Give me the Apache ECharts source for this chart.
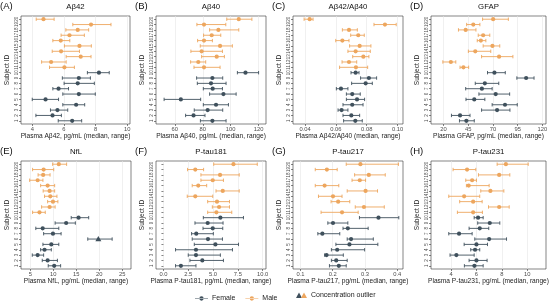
<!DOCTYPE html>
<html>
<head>
<meta charset="utf-8">
<script src="https://cdn.jsdelivr.net/npm/echarts@6/dist/echarts.min.js"></script>
<style>
  html, body { margin: 0; padding: 0; background: #fff; }
  #chart { width: 551px; height: 302px; }
</style>
</head>
<body>
<div id="chart"></div>
<script>
// subject IDs (y axis) and sex of each subject
const subjectIds = [1, 2, 3, 4, 5, 6, 7, 8, 9, 10, 11, 12, 13, 14, 15, 16, 17, 18, 19, 20];
const subjectSex = ['F', 'F', 'F', 'F', 'F', 'F', 'F', 'F', 'F', 'F',
                    'M', 'M', 'M', 'M', 'M', 'M', 'M', 'M', 'M', 'M'];

// values per subject (index 0 = subject 1): median, min, max
const ab42Med = [6.52, 5.28, 5.59, 6.77, 4.84, 6.94, 5.66, 6.87, 6.94, 8.21, 6.03, 5.19, 7.06, 5.82, 6.98, 5.80, 6.35, 6.87, 7.71, 4.71];
const ab42Min = [5.64, 4.23, 5.15, 5.93, 4.00, 5.93, 5.30, 6.01, 5.90, 7.48, 5.09, 4.59, 6.14, 5.26, 6.03, 5.30, 5.82, 6.12, 6.56, 4.25];
const ab42Max = [7.12, 5.84, 6.24, 7.31, 5.66, 7.98, 6.29, 7.92, 7.67, 8.86, 6.66, 6.14, 7.71, 6.98, 7.73, 6.37, 7.29, 7.56, 8.97, 5.38];

const ab40Med = [86.9, 73.4, 83.5, 89.5, 64.3, 94.8, 87.1, 85.9, 86.9, 110.6, 80.9, 76.8, 90.0, 79.2, 92.4, 80.9, 86.4, 91.2, 80.9, 105.8];
const ab40Min = [78.3, 67.7, 73.9, 80.4, 52.3, 84.9, 80.4, 76.1, 75.6, 104.8, 73.7, 71.3, 79.2, 71.5, 78.2, 76.3, 80.6, 84.9, 75.8, 97.2];
const ab40Max = [96.7, 81.6, 94.3, 98.4, 78.5, 103.9, 94.1, 96.7, 94.3, 120.0, 92.4, 82.1, 95.5, 94.1, 101.2, 86.9, 92.9, 105.8, 96.5, 115.2];

const ratioMed = [0.0726, 0.0700, 0.0637, 0.0706, 0.0737, 0.0706, 0.0633, 0.0793, 0.0814, 0.0728, 0.0730, 0.0685, 0.0778, 0.0728, 0.0754, 0.0642, 0.0745, 0.0685, 0.0918, 0.0430];
const ratioMin = [0.0650, 0.0646, 0.0614, 0.0646, 0.0668, 0.0668, 0.0603, 0.0702, 0.0760, 0.0698, 0.0624, 0.0640, 0.0709, 0.0678, 0.0689, 0.0599, 0.0696, 0.0642, 0.0847, 0.0394];
const ratioMax = [0.0771, 0.0754, 0.0678, 0.0776, 0.0786, 0.0758, 0.0678, 0.0836, 0.0864, 0.0750, 0.0806, 0.0735, 0.0814, 0.0823, 0.0827, 0.0685, 0.0784, 0.0739, 0.0991, 0.0452];

const gfapMed = [43.1, 36.7, 74.2, 82.2, 51.1, 72.8, 58.8, 61.8, 103.6, 71.5, 40.1, 27.4, 76.2, 52.1, 69.5, 57.8, 60.1, 42.4, 50.1, 70.2];
const gfapMin = [36.1, 28.0, 58.5, 69.2, 42.7, 55.8, 42.4, 52.1, 94.2, 64.5, 36.7, 19.3, 58.5, 45.1, 60.1, 54.1, 55.1, 35.1, 43.4, 59.5];
const gfapMax = [51.1, 46.8, 87.2, 94.6, 61.8, 86.9, 69.2, 75.9, 111.6, 82.5, 45.4, 32.4, 90.2, 67.8, 76.9, 62.8, 66.8, 52.8, 56.8, 85.6];

const nflMed = [10.2, 8.77, 6.6, 8.1, 9.57, 19.8, 9.93, 7.7, 12.8, 15.5, 7.0, 9.2, 9.93, 9.35, 9.2, 8.77, 6.6, 7.8, 7.9, 11.2];
const nflMin = [8.9, 7.6, 5.43, 7.25, 7.75, 17.5, 7.9, 6.2, 10.4, 13.9, 5.5, 7.46, 8.77, 8.1, 7.8, 7.25, 4.86, 6.7, 5.5, 9.86];
const nflMax = [11.6, 10.9, 7.9, 9.57, 11.2, 22.8, 11.7, 11.2, 14.8, 17.7, 8.26, 10.4, 11.0, 10.8, 10.3, 10.3, 7.75, 9.3, 10.1, 12.9];
const nflOutliers = [6];

const ptau181Med = [1.76, 3.92, 3.28, 3.28, 5.24, 4.49, 3.31, 4.97, 4.46, 5.74, 5.34, 5.61, 5.40, 3.21, 5.98, 3.51, 4.97, 5.71, 3.21, 7.06];
const ptau181Min = [1.22, 2.67, 2.50, 1.22, 3.11, 2.90, 2.84, 3.99, 3.18, 4.02, 4.46, 4.93, 4.46, 2.40, 5.30, 2.90, 3.78, 3.78, 2.43, 5.07];
const ptau181Max = [3.28, 6.05, 5.74, 6.96, 7.57, 5.95, 5.03, 5.98, 6.01, 8.07, 6.89, 6.66, 6.66, 4.97, 7.64, 4.36, 6.05, 7.64, 4.05, 9.46];

const ptau217Med = [0.219, 0.211, 0.181, 0.214, 0.252, 0.257, 0.168, 0.247, 0.201, 0.342, 0.229, 0.297, 0.217, 0.201, 0.302, 0.175, 0.284, 0.312, 0.182, 0.286];
const ptau217Min = [0.190, 0.196, 0.175, 0.196, 0.210, 0.245, 0.154, 0.232, 0.185, 0.283, 0.164, 0.270, 0.195, 0.156, 0.245, 0.146, 0.260, 0.268, 0.146, 0.242];
const ptau217Max = [0.242, 0.245, 0.233, 0.299, 0.340, 0.326, 0.222, 0.310, 0.247, 0.405, 0.279, 0.360, 0.253, 0.229, 0.339, 0.219, 0.302, 0.363, 0.214, 0.404];

const ptau231Med = [5.84, 6.00, 4.42, 5.89, 6.00, 7.00, 4.63, 6.26, 7.05, 6.13, 5.74, 7.79, 5.74, 5.03, 7.10, 5.39, 5.66, 7.79, 5.26, 8.32];
const ptau231Min = [5.05, 5.42, 3.92, 5.55, 5.03, 5.87, 3.82, 5.42, 6.10, 5.82, 4.50, 6.95, 4.68, 3.82, 6.34, 5.21, 5.16, 6.16, 4.16, 7.63];
const ptau231Max = [6.53, 6.84, 5.82, 6.26, 6.87, 8.37, 5.66, 6.97, 7.84, 6.53, 6.47, 8.58, 6.45, 6.26, 8.16, 7.00, 6.00, 8.63, 5.95, 10.08];

// x tick labels per panel
const ab42Ticks = [4, 6, 8, 10];
const ab40Ticks = [60, 80, 100, 120];
const ratioTicks = [0.04, 0.06, 0.08, 0.10];
const gfapTicks = [20, 45, 70, 95, 120];
const nflTicks = [5, 10, 15, 20, 25];
const ptau181Ticks = [0, 2.5, 5, 7.5, 10];
const ptau217Ticks = [0.1, 0.2, 0.3, 0.4];
const ptau231Ticks = [4, 6, 8, 10];

const FEMALE = '#3f505c';
const MALE = '#eda65e';
const FONT = '"Liberation Sans", Arial, sans-serif';

const panels = [
  { tag: '(A)', title: 'Aβ42', xName: 'Plasma Aβ42, pg/mL (median, range)', med: ab42Med, lo: ab42Min, hi: ab42Max, ticks: ab42Ticks, min: 3.29, max: 10.17, dec: 0, left: 21, top: 16, width: 109 },
  { tag: '(B)', title: 'Aβ40', xName: 'Plasma Aβ40, pg/mL (median, range)', med: ab40Med, lo: ab40Min, hi: ab40Max, ticks: ab40Ticks, min: 46.5, max: 125.3, dec: 0, left: 156, top: 16, width: 110 },
  { tag: '(C)', title: 'Aβ42/Aβ40', xName: 'Plasma Aβ42/Aβ40 (median, range)', med: ratioMed, lo: ratioMin, hi: ratioMax, ticks: ratioTicks, min: 0.0322, max: 0.1035, dec: 2, left: 293, top: 16, width: 110 },
  { tag: '(D)', title: 'GFAP', xName: 'Plasma GFAP, pg/mL (median, range)', med: gfapMed, lo: gfapMin, hi: gfapMax, ticks: gfapTicks, min: 7.3, max: 123.7, dec: 0, left: 431, top: 16, width: 115 },
  { tag: '(E)', title: 'NfL', xName: 'Plasma NfL, pg/mL (median, range)', med: nflMed, lo: nflMin, hi: nflMax, ticks: nflTicks, min: 2.98, max: 26.9, dec: 0, left: 21, top: 161, width: 110, outliers: nflOutliers },
  { tag: '(F)', title: 'P-tau181', xName: 'Plasma P-tau181, pg/mL (median, range)', med: ptau181Med, lo: ptau181Min, hi: ptau181Max, ticks: ptau181Ticks, min: -0.75, max: 10.34, dec: 1, left: 156, top: 161, width: 110 },
  { tag: '(G)', title: 'P-tau217', xName: 'Plasma P-tau217, pg/mL (median, range)', med: ptau217Med, lo: ptau217Min, hi: ptau217Max, ticks: ptau217Ticks, min: 0.077, max: 0.418, dec: 1, left: 293, top: 161, width: 110 },
  { tag: '(H)', title: 'P-tau231', xName: 'Plasma P-tau231, pg/mL (median, range)', med: ptau231Med, lo: ptau231Min, hi: ptau231Max, ticks: ptau231Ticks, min: 2.42, max: 11.48, dec: 0, left: 431, top: 161, width: 115 }
];
const PANEL_H = 108;

// error bar + point, positioned with the grid's own scales
function renderRange(params, api) {
  const id = api.value(3);
  const p = api.coord([api.value(0), id]);
  const a = api.coord([api.value(1), id]);
  const b = api.coord([api.value(2), id]);
  const color = api.visual('color');
  const cap = 1.7;
  const line = { stroke: color, lineWidth: 0.9 };
  const children = [
    { type: 'line', shape: { x1: a[0], y1: p[1], x2: b[0], y2: p[1] }, style: line },
    { type: 'line', shape: { x1: a[0], y1: p[1] - cap, x2: a[0], y2: p[1] + cap }, style: line },
    { type: 'line', shape: { x1: b[0], y1: p[1] - cap, x2: b[0], y2: p[1] + cap }, style: line }
  ];
  if (api.value(4)) {
    children.push({ type: 'polygon', shape: { points: [[p[0], p[1] - 3], [p[0] - 3, p[1] + 2.2], [p[0] + 3, p[1] + 2.2]] }, style: { fill: color } });
  } else {
    children.push({ type: 'circle', shape: { cx: p[0], cy: p[1], r: 2.1 }, style: { fill: color } });
  }
  return { type: 'group', children };
}

const grid = [], xAxis = [], yAxis = [], series = [], graphic = [];

panels.forEach((pn, i) => {
  grid.push({ left: pn.left, top: pn.top, width: pn.width, height: PANEL_H, show: true, borderColor: '#333', borderWidth: 0.6, backgroundColor: '#fff' });
  xAxis.push({
    gridIndex: i, type: 'value', min: pn.min, max: pn.max,
    name: pn.xName, nameLocation: 'middle', nameGap: 9,
    nameTextStyle: { fontFamily: FONT, fontSize: 6.6, color: '#222' },
    axisLine: { show: false },
    axisTick: { show: true, length: 2, lineStyle: { color: '#333', width: 0.6 }, customValues: pn.ticks },
    axisLabel: { customValues: pn.ticks, fontFamily: FONT, fontSize: 5.8, color: '#4d4d4d', margin: 2,
      formatter: v => v.toFixed(pn.dec) },
    splitLine: { show: true, lineStyle: { color: '#e6e6e6', width: 0.6 } }
  });
  yAxis.push({
    gridIndex: i, type: 'value', min: 0.4, max: 20.6,
    name: 'Subject ID', nameLocation: 'middle', nameGap: 10, nameRotate: 90,
    nameTextStyle: { fontFamily: FONT, fontSize: 6.6, color: '#222' },
    axisLine: { show: false },
    axisTick: { show: true, length: 2, lineStyle: { color: '#333', width: 0.6 }, customValues: subjectIds },
    axisLabel: { customValues: subjectIds, rotate: 90, fontFamily: FONT, fontSize: 4.5, color: '#4d4d4d', margin: 1.5 },
    splitLine: { show: false }
  });
  ['F', 'M'].forEach(sex => {
    const data = [];
    subjectIds.forEach((id, k) => {
      if (subjectSex[k] !== sex) return;
      const out = pn.outliers && pn.outliers.indexOf(id) >= 0 ? 1 : 0;
      data.push([pn.med[k], pn.lo[k], pn.hi[k], id, out]);
    });
    series.push({
      type: 'custom', name: sex === 'F' ? 'Female' : 'Male',
      xAxisIndex: i, yAxisIndex: i,
      itemStyle: { color: sex === 'F' ? FEMALE : MALE },
      renderItem: renderRange, data, silent: true, animation: false
    });
  });
  graphic.push({ type: 'text', x: pn.left - 21, y: pn.top - 15, style: { text: pn.tag, font: '9.5px ' + FONT, fill: '#111' } });
  graphic.push({ type: 'text', x: pn.left + pn.width / 2, y: pn.top - 13, style: { text: pn.title, font: '7.8px ' + FONT, fill: '#111', textAlign: 'center' } });
});

// outlier legend entry
graphic.push({ type: 'polygon', shape: { points: [[299, 292.5], [296, 298], [302, 298]] }, style: { fill: FEMALE } });
graphic.push({ type: 'polygon', shape: { points: [[304, 292.5], [301, 298], [307, 298]] }, style: { fill: MALE } });
graphic.push({ type: 'text', x: 311, y: 291.5, style: { text: 'Concentration outlier', font: '7px ' + FONT, fill: '#222' } });

const chart = echarts.init(document.getElementById('chart'), null, { renderer: 'canvas' });
chart.setOption({
  animation: false,
  textStyle: { fontFamily: FONT },
  grid, xAxis, yAxis, series, graphic,
  legend: {
    data: ['Female', 'Male'], left: 190, top: 290, itemWidth: 13, itemHeight: 5.4, itemGap: 10,
    icon: 'path://M0,4.4h24v1.2h-24z M8,5a4,4 0 1 0 8,0a4,4 0 1 0 -8,0z',
    textStyle: { fontFamily: FONT, fontSize: 7, color: '#222', padding: [0, 0, 0, -1] },
    selectedMode: false
  }
});
</script>
</body>
</html>
